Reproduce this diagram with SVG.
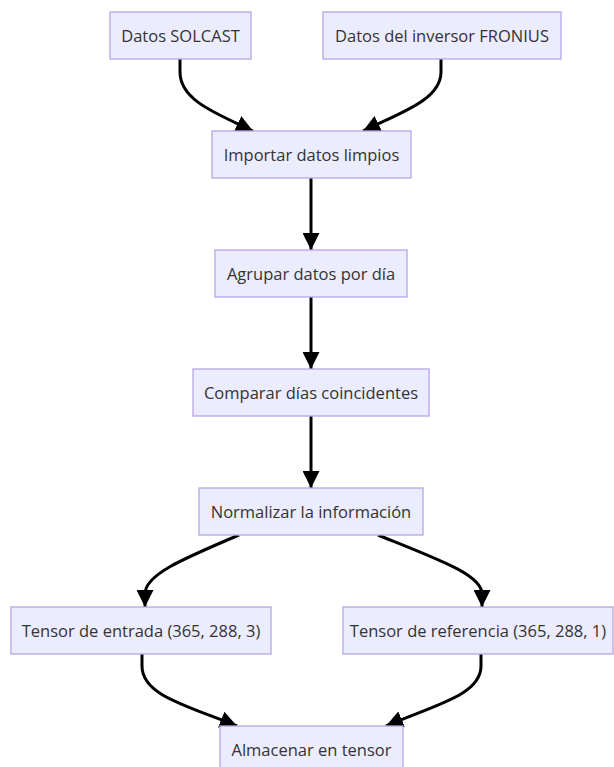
<svg xmlns="http://www.w3.org/2000/svg" width="614" height="767" viewBox="0 0 614 767">
<style>
.node rect{fill:#ececff;stroke:#b4a6e6;stroke-width:1.3}
.node text{font-family:"Open Sans","Noto Sans",sans-serif;font-size:16.5px;fill:#333;text-anchor:middle;dominant-baseline:central}
.edge{fill:none;stroke:#000;stroke-width:3}
</style>
<defs>
<marker id="ah" markerUnits="userSpaceOnUse" markerWidth="17" markerHeight="17" viewBox="0 0 10 10" refX="10" refY="5" orient="auto">
<path d="M0,0 L10,5 L0,10 z" fill="#000"/>
</marker>
</defs>
<rect width="614" height="767" fill="#fff"/>
<g id="connectors">
<path class="edge" marker-end="url(#ah)" d="M180,59 L180,72 C180,100 215,113 253,131"/>
<path class="edge" marker-end="url(#ah)" d="M441,59 L441,72 C441,100 400,113 363,131"/>
<path class="edge" marker-end="url(#ah)" d="M311,178 L311,250"/>
<path class="edge" marker-end="url(#ah)" d="M311,297 L311,369"/>
<path class="edge" marker-end="url(#ah)" d="M311,416 L311,488"/>
<path class="edge" marker-end="url(#ah)" d="M239,535 C180,560 145,575 145,594 L145,607"/>
<path class="edge" marker-end="url(#ah)" d="M378,535 C440,560 482,575 482,594 L482,607"/>
<path class="edge" marker-end="url(#ah)" d="M142,654 L142,666 C142,695 185,705 237,726"/>
<path class="edge" marker-end="url(#ah)" d="M481,654 L481,666 C481,695 435,705 386,726"/>
</g>
<g id="solcast" class="node"><rect x="110" y="12" width="141" height="47"/><text x="180.5" y="35.5">Datos SOLCAST</text></g>
<g id="fronius" class="node"><rect x="323" y="12" width="238" height="47"/><text x="442" y="35.5">Datos del inversor FRONIUS</text></g>
<g id="importar" class="node"><rect x="212" y="131" width="199" height="47"/><text x="311.5" y="154.5">Importar datos limpios</text></g>
<g id="agrupar" class="node"><rect x="215" y="250" width="192" height="47"/><text x="311" y="273.5">Agrupar datos por día</text></g>
<g id="comparar" class="node"><rect x="193" y="369" width="236" height="47"/><text x="311" y="392.5">Comparar días coincidentes</text></g>
<g id="normalizar" class="node"><rect x="199" y="488" width="224" height="47"/><text x="311" y="511.5">Normalizar la información</text></g>
<g id="entrada" class="node"><rect x="11" y="607" width="260" height="47"/><text x="141" y="630.5">Tensor de entrada (365, 288, 3)</text></g>
<g id="referencia" class="node"><rect x="343" y="607" width="270" height="47"/><text x="478" y="630.5">Tensor de referencia (365, 288, 1)</text></g>
<g id="almacenar" class="node"><rect x="220" y="726" width="183" height="47"/><text x="311.5" y="749.5">Almacenar en tensor</text></g>
</svg>
